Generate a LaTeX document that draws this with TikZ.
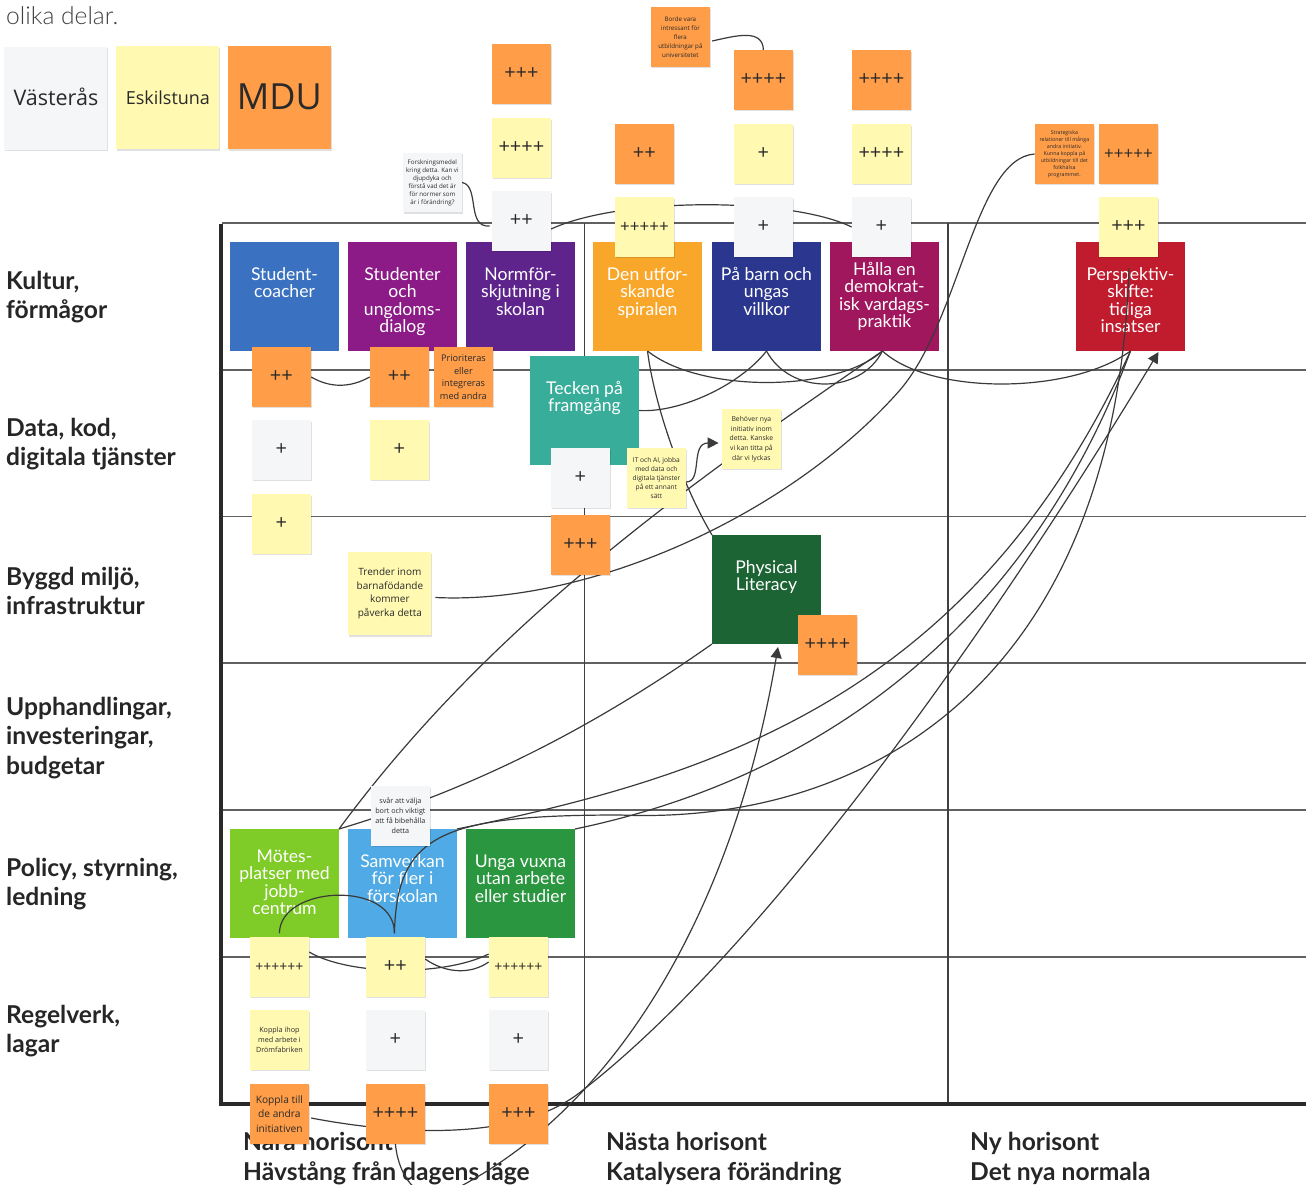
\documentclass[tikz,border=0pt]{standalone}
\usepackage{fontspec}
\setmainfont{Lato}
\newfontfamily\stickyfont{Open Sans}
\newfontfamily\lightfont{Lato Light}
\usetikzlibrary{shadows,arrows.meta,calc}
\pgfdeclarelayer{back}
\pgfdeclarelayer{conn}
\pgfsetlayers{back,conn,main}
\definecolor{cOrange}{HTML}{FF9D48}
\definecolor{cYellow}{HTML}{FFF9B1}
\definecolor{cGray}{HTML}{F5F6F8}
\definecolor{cInk}{HTML}{2A2A2A}
\definecolor{cLine}{HTML}{3A3A3A}
\definecolor{cLabel}{HTML}{262626}
\newcommand{\tiletxt}[2][34]{\parbox[c][109pt][t]{107pt}{\centering\fontsize{17.6}{17.4}\selectfont\rule{0pt}{#1pt}\vspace{-13pt}\par #2}}
\tikzset{
  x=1pt,y=-1pt,
  tile/.style={fill=#1,text=white,inner sep=0pt,minimum size=109pt,outer sep=0pt},
  stickybase/.style={minimum size=59.5pt,inner sep=0pt,outer sep=0pt,align=center,text=cInk,xshift=-0.6pt,
     font=\stickyfont,drop shadow={shadow xshift=1pt,shadow yshift=-1.5pt,fill=black,opacity=.12}},
  so/.style={stickybase,fill=cOrange},
  sy/.style={stickybase,fill=cYellow},
  sg/.style={stickybase,fill=cGray},
  plus/.style={font=\stickyfont\fontsize{20}{20}\selectfont},
  plusv/.style={font=\stickyfont\fontsize{17}{17}\selectfont},
  plusvi/.style={font=\stickyfont\fontsize{14}{14}\selectfont},
  rowlabel/.style={anchor=west,inner sep=0pt,align=left,text=cLabel,
     font=\bfseries\fontsize{24.6}{29.8}\selectfont},
  conn/.style={draw=cLine,line width=1.2pt},
  gridh/.style={draw=black!62,line width=1.2pt},
  gridv/.style={draw=black!75,line width=1.1pt},
  axis/.style={draw=cInk,line width=4.5pt},
  tip/.style={-{Triangle[length=11pt,width=11pt]}},
}
\begin{document}
\begin{tikzpicture}
\useasboundingbox (0,0) rectangle (1306,1185);
\begin{pgfonlayer}{back}
  \draw[gridh] (222,223) -- (1306,223);
  \draw[gridh] (222,370) -- (1306,370);
  \draw[gridh] (222,516.5) -- (1306,516.5);
  \draw[gridh] (222,663) -- (1306,663);
  \draw[gridh] (222,810) -- (1306,810);
  \draw[gridh] (222,957) -- (1306,957);
  \draw[gridv] (584.5,223) -- (584.5,1104);
  \draw[gridv] (948,223) -- (948,1104);
  \draw[axis] (221,224) -- (221,1104) -- (1306,1104);
  \node[anchor=west,inner sep=0pt,text=black!75,font=\lightfont\fontsize{24.6}{24.6}\selectfont] (intro) at (6,16) {olika delar.};
  \node[rowlabel] (l1) at (6,297) {Kultur,\\förmågor};
  \node[rowlabel] (l2) at (6,444) {Data, kod,\\digitala tjänster};
  \node[rowlabel] (l3) at (6,591) {Byggd miljö,\\infrastruktur};
  \node[rowlabel] (l4) at (6,738) {Upphandlingar,\\investeringar,\\budgetar};
  \node[rowlabel] (l5) at (6,884) {Policy, styrning,\\ledning};
  \node[rowlabel] (l6) at (6,1031) {Regelverk,\\lagar};
  \node[rowlabel] (h1) at (243,1158.5) {Nära horisont\\Hävstång från dagens läge};
  \node[rowlabel] (h2) at (606,1158.5) {Nästa horisont\\Katalysera förändring};
  \node[rowlabel] (h3) at (970,1158.5) {Ny horisont\\Det nya normala};
  \definecolor{t1}{HTML}{3A72C1}\definecolor{t2}{HTML}{8C1A87}\definecolor{t3}{HTML}{5E248C}
  \definecolor{t4}{HTML}{F9A72A}\definecolor{t5}{HTML}{2B378F}\definecolor{t6}{HTML}{A0175E}
  \definecolor{t7}{HTML}{C11B2E}\definecolor{t8}{HTML}{38AD9A}\definecolor{t9}{HTML}{1D6435}
  \definecolor{t10}{HTML}{7FCB28}\definecolor{t11}{HTML}{4FAAE5}\definecolor{t12}{HTML}{2A963F}
  \node[tile=t1] (coach) at (284.5,296.5) {\tiletxt{Student-\\coacher}};
  \node[tile=t2] (dialog) at (402.5,296.5) {\tiletxt{Studenter\\och\\ungdoms-\\dialog}};
  \node[tile=t3] (norm) at (520.5,296.5) {\tiletxt{Normför-\\skjutning i\\skolan}};
  \node[tile=t4] (spiral) at (647.5,296.5) {\tiletxt{Den utfor-\\skande\\spiralen}};
  \node[tile=t5] (barn) at (766.5,296.5) {\tiletxt{På barn och\\ungas\\villkor}};
  \node[tile=t6] (prakt) at (884.5,296.5) {\tiletxt[29]{Hålla en\\demokrat-\\isk vardags-\\praktik}};
  \node[tile=t7] (persp) at (1130.5,296.5) {\tiletxt{Perspektiv-\\skifte:\\tidiga\\insatser}};
  \node[tile=t8] (tecken) at (584.5,410.5) {\tiletxt{Tecken på\\framgång}};
  \node[tile=t9] (phys) at (766.5,589.5) {\tiletxt{Physical\\Literacy}};
  \node[tile=t10] (mote) at (284.5,883.5) {\tiletxt[29]{Mötes-\\platser med\\jobb-\\centrum}};
  \node[tile=t11] (samv) at (402.5,883.5) {\tiletxt{Samverkan\\för fler i\\förskolan}};
  \node[tile=t12] (unga) at (520.5,883.5) {\tiletxt{Unga vuxna\\utan arbete\\eller studier}};
\end{pgfonlayer}

% legend
\node[sg,minimum size=103pt,font=\stickyfont\fontsize{21.5}{21.5}\selectfont] (lv) at (56.5,98.5) {\raisebox{4pt}{Västerås}};
\node[sy,minimum size=103pt,font=\stickyfont\fontsize{18}{18}\selectfont] (le) at (168.5,98) {\raisebox{1.5pt}{Eskilstuna}};
\node[so,minimum size=103pt,font=\stickyfont\fontsize{36}{36}\selectfont] (lm) at (280,98) {\raisebox{3pt}{MDU}};

% stickies above the top row
\node[so,plus] (a1) at (522,74) {+++};
\node[sy,plus] (a2) at (522,148) {++++};
\node[sg,plus] (a3) at (522,221) {++};
\node[so,plus] (b1) at (645,154) {++};
\node[sy,plusv] (b2) at (645,227) {+++++};
\node[so,plus] (c1) at (764,80) {++++};
\node[sy,plus] (c2) at (764,154) {+};
\node[sg,plus] (c3) at (764,227) {+};
\node[so,plus] (d1) at (882,80) {++++};
\node[sy,plus] (d2) at (882,154) {++++};
\node[sg,plus] (d3) at (882,227) {+};
\node[so,plusv] (e1) at (1129,154) {+++++};
\node[sy,plus] (e2) at (1129,227) {+++};
\node[so,font=\stickyfont\fontsize{5.3}{7}\selectfont] (strat) at (1065,154) {Strategiska\\relationer till många\\andra initiativ.\\Kunna koppla på\\utbildningar till det\\folkhälsa\\programmet.};
\node[so,font=\stickyfont\fontsize{6.2}{9}\selectfont] (borde) at (681,37) {Borde vara\\intressant för\\flera\\utbildningar på\\universitetet};
\node[sg,font=\stickyfont\fontsize{6.2}{8}\selectfont] (forsk) at (433,182.5) {Forskningsmedel\\kring detta. Kan vi\\djupdyka och\\förstå vad det är\\för normer som\\är i förändring?};
% second row
\node[so,plus] (f1) at (282,377) {++};
\node[so,plus] (f2) at (400,377) {++};
\node[so,font=\stickyfont\fontsize{9.2}{12.6}\selectfont] (prior) at (464,377) {Prioriteras\\eller\\integreras\\med andra};
\node[sg,plus] (g1) at (282,450) {+};
\node[sy,plus] (g2) at (400,450) {+};
\node[sy,plus] (g3) at (282,524) {+};
\node[sg,plus] (h5) at (581,478) {+};
\node[sy,font=\stickyfont\fontsize{6.6}{9}\selectfont] (it) at (657,478) {IT och AI, jobba\\med data och\\digitala tjänster\\på ett annant\\sätt};
\node[so,plus] (j1) at (581,545) {+++};
\node[sy,font=\stickyfont\fontsize{6.8}{9.7}\selectfont] (beh) at (752,439) {Behöver nya\\initiativ inom\\detta. Kanske\\vi kan titta på\\där vi lyckas};
\node[sy,minimum size=83pt,font=\stickyfont\fontsize{10}{13.6}\selectfont] (trend) at (390.5,593.5) {Trender inom\\barnafödande\\kommer\\påverka detta};
\node[so,plus] (k1) at (828,645) {++++};
\node[sg,font=\stickyfont\fontsize{7.2}{10}\selectfont] (svar) at (401,816) {svår att välja\\bort och viktigt\\att få bibehålla\\detta};
% bottom rows
\node[sy,plusvi] (m1) at (280,967) {++++++};
\node[sy,plus] (m2) at (396,967) {++};
\node[sy,plusvi] (m3) at (519,967) {++++++};
\node[sy,font=\stickyfont\fontsize{7.2}{10}\selectfont] (n1) at (280,1040) {Koppla ihop\\med arbete i\\Drömfabriken};
\node[sg,plus] (n2) at (396,1040) {+};
\node[sg,plus] (n3) at (519,1040) {+};
\node[so,font=\stickyfont\fontsize{10.2}{14.6}\selectfont] (p1) at (280,1114) {Koppla till\\de andra\\initiativen};
\node[so,plus] (p2) at (396,1114) {++++};
\node[so,plus] (p3) at (519,1114) {+++};

\coordinate (praktS) at ($(prakt.south)+(-2,0)$);
\coordinate (perspIn) at ($(persp.center)+(-1.5,-28)$);
\coordinate (perspTip) at ($(persp.south)+(28,1)$);
\coordinate (physTip) at ($(phys.south)+(11.5,3)$);
\coordinate (behTip) at ($(beh.west)+(-3,4)$);
\coordinate (itOut) at ($(it.east)+(0,4)$);
\coordinate (a3Out) at ($(a3.east)+(0,8)$);
\coordinate (a3In) at ($(a3.west)+(-2,5)$);
\coordinate (m1Out) at ($(m1.east)+(0,-15)$);
\coordinate (m3InA) at ($(m3.west)+(0,-13)$);
\coordinate (m3InB) at ($(m3.west)+(0,-5)$);
\coordinate (m2Out) at ($(m2.east)+(0,-8)$);
\coordinate (trendOut) at ($(trend.east)+(4,4)$);
\coordinate (p1Out) at ($(p1.east)+(2,4)$);
\coordinate (bordeOut) at ($(borde.east)+(2,4)$);
\coordinate (m1N) at ($(m1.north)+(0,-4)$);
\coordinate (m2N) at ($(m2.north)+(-1,-4)$);

\begin{pgfonlayer}{conn}
  % short links
  \draw[conn] (forsk.east) .. controls (480,186) and (466,228) .. (a3In);
  \draw[conn] (a3Out) .. controls (620,197) and (790,197) .. (d3.west);
  \draw[conn] (bordeOut) .. controls (735,36) and (763,28) .. (c1.north);
  \draw[conn] (f1.east) .. controls (330,388) and (350,388) .. (f2.west);
  \draw[conn] (m1Out) .. controls (350,976) and (445,976) .. (m3InA);
  \draw[conn] (m2Out) .. controls (445,973) and (470,975) .. (m3InB);
  \draw[conn] (m1N) .. controls (280,885) and (395,880) .. (m2N);
  \draw[conn,tip] (itOut) .. controls (703,482) and (690,443) .. (behTip);
  % arcs under the top row
  \draw[conn] (spiral.south) .. controls (700,393) and (835,393) .. (praktS);
  \draw[conn] (barn.south) .. controls (740,385) and (680,413) .. (tecken.east);
  \draw[conn] (barn.south) .. controls (790,395) and (860,395) .. (praktS);
  \draw[conn] (praktS) .. controls (930,395) and (1070,395) .. (persp.south);
  \draw[conn] (spiral.south) .. controls (655,410) and (685,490) .. (phys.north west);
  % long lines
  \draw[conn] (praktS) .. controls (690,483) and (491,623) .. (mote.north east);
  \draw[conn] (phys.south west) .. controls (590,730) and (470,790) .. (mote.north east);
  \draw[conn] (trendOut) .. controls (590,605) and (790,515) .. (900,390) .. controls (960,320) and (975,158) .. (strat.west);
  \draw[conn] (samv.north east) .. controls (723,775) and (973,692) .. (persp.south);
  \draw[conn] (unga.north east) .. controls (820,778) and (1027,628) .. (persp.south);
  \draw[conn] (m2N) .. controls (397,835) and (440,815) .. (620,815) .. controls (860,825) and (1115,690) .. (perspIn);
  \draw[conn,tip] (p1Out) .. controls (400,1135) and (520,1142) .. (583,1090) .. controls (763,950) and (988,635) .. (perspTip);
  \draw[conn,tip] (p2.south) .. controls (398,1175) and (420,1215) .. (463,1185) .. controls (630,1095) and (737,890) .. (physTip);
\end{pgfonlayer}
\end{tikzpicture}
\end{document}
